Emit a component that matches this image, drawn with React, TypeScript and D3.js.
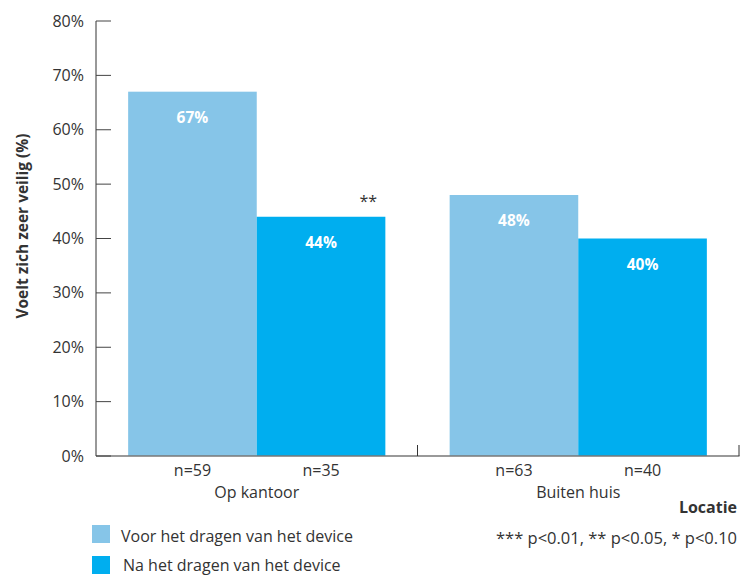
import React from "react";
import * as d3 from "d3";

const locations = ["Op kantoor", "Buiten huis"];
const seriesNames = ["Voor het dragen van het device", "Na het dragen van het device"];
const voorValues = [67, 48];
const naValues = [44, 40];
const voorN = [59, 63];
const naN = [35, 40];
const naSignificance = ["**", ""];
const yTicks = [0, 10, 20, 30, 40, 50, 60, 70, 80];
const colors = ["#86C5E8", "#00AEEF"];

const W = 740;
const H = 576;
const FONT = "'Open Sans', 'Noto Sans', sans-serif";

export default function App() {
  const left = 96;
  const right = 739;
  const y0 = 456;
  const yTop = 21;

  const x = d3.scaleBand<string>().domain(locations).range([left, right]).paddingInner(0.2).paddingOuter(0.1);
  const y = d3.scaleLinear().domain([0, 80]).range([y0, yTop]);
  const sub = d3.scaleBand<string>().domain(["voor", "na"]).range([0, x.bandwidth()]);

  const groupBounds = [left, left + (right - left) / 2, right];

  return (
    <div style={{ position: "fixed", left: 0, top: 0, width: W, height: H, overflow: "hidden" }}>
      <svg width={W} height={H} style={{ display: "block", fontFamily: FONT }}>
        <rect width={W} height={H} fill="#fff" />
        {locations.map((loc, i) => {
          const gx = x(loc)!;
          const vals = [voorValues[i], naValues[i]];
          const ns = [voorN[i], naN[i]];
          return (
            <g key={loc}>
              {["voor", "na"].map((k, j) => {
                const bx = gx + sub(k)!;
                const bw = sub.bandwidth();
                return (
                  <g key={k}>
                    <rect x={bx} y={y(vals[j])} width={bw} height={y0 - y(vals[j])} fill={colors[j]} />
                    <text x={bx + bw / 2} y={y(vals[j]) + 31} textAnchor="middle" fill="#fff" fontWeight="bold" fontSize={15.5}>
                      {vals[j]}%
                    </text>
                    <text x={bx + bw / 2} y={476} textAnchor="middle" fill="#333" fontSize={16}>
                      n={ns[j]}
                    </text>
                  </g>
                );
              })}
              {naSignificance[i] && (
                <text x={gx + sub("na")! + sub.bandwidth() - 17} y={y(naValues[i]) - 10} textAnchor="middle" fill="#333" fontSize={16}>
                  {naSignificance[i]}
                </text>
              )}
              <text x={gx + x.bandwidth() / 2} y={498} textAnchor="middle" fill="#333" fontSize={16}>
                {loc}
              </text>
            </g>
          );
        })}
        <line x1={left} x2={right + 0.5} y1={y0} y2={y0} stroke="#777" strokeWidth={1.5} />
        {groupBounds.slice(1).map((gb, i) => (
          <line key={i} x1={gb} x2={gb} y1={y0} y2={y0 - 11} stroke="#333" strokeWidth={1} />
        ))}
        <line x1={left} x2={left} y1={yTop} y2={y0} stroke="#333" strokeWidth={1} />
        {yTicks.map((t) => (
          <g key={t}>
            <line x1={left} x2={left + 15} y1={y(t)} y2={y(t)} stroke="#444" strokeWidth={1} />
            <text x={84} y={y(t) + 5.5} textAnchor="end" fill="#333" fontSize={16}>
              {t}%
            </text>
          </g>
        ))}
        <text
          transform={`translate(28, 226) rotate(-90)`}
          textAnchor="middle"
          fill="#333"
          fontWeight="bold"
          fontSize={15.5}
        >
          Voelt zich zeer veilig (%)
        </text>
        <text x={737} y={513} textAnchor="end" fill="#333" fontWeight="bold" fontSize={16}>
          Locatie
        </text>
        <text x={737} y={544} textAnchor="end" fill="#333" fontSize={16.5}>
          *** p&lt;0.01, ** p&lt;0.05, * p&lt;0.10
        </text>
        {seriesNames.map((s, i) => (
          <g key={s}>
            <rect x={92} y={525 + i * 31} width={18} height={18} fill={colors[i]} />
            <text x={121 + i * 2} y={542 + i * 29} fill="#333" fontSize={16}>
              {s}
            </text>
          </g>
        ))}
      </svg>
    </div>
  );
}
